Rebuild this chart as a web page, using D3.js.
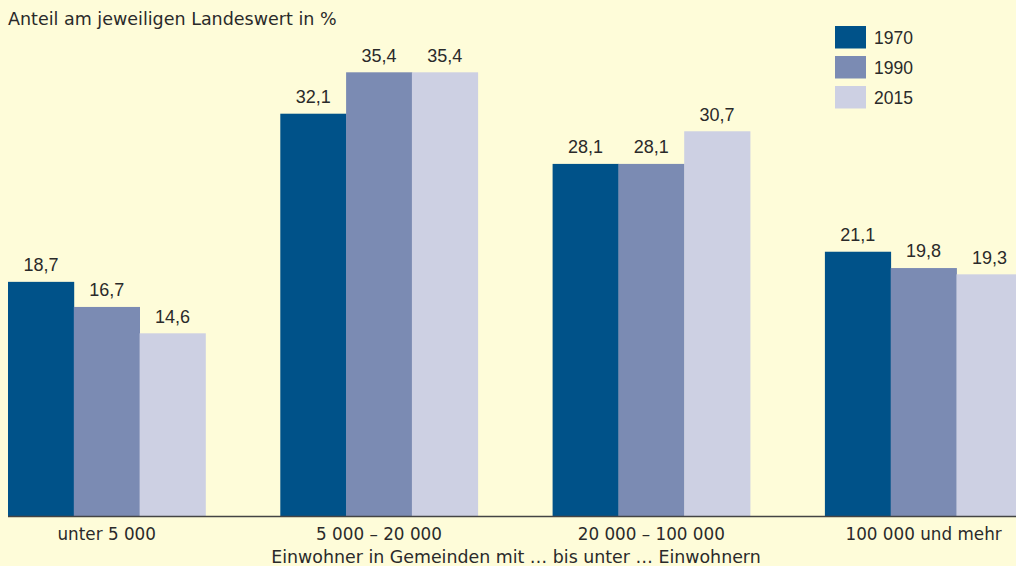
<!DOCTYPE html>
<html><head><meta charset="utf-8">
<script src="https://cdn.jsdelivr.net/npm/d3@7"></script>
<style>
html,body{margin:0;padding:0;background:#fefcd9;}
svg{display:block;}
</style></head>
<body><svg id="c" width="1016" height="566"></svg>
<script>
const categories = ["unter 5 000", "5 000 – 20 000", "20 000 – 100 000", "100 000 und mehr"];
const seriesNames = ["1970", "1990", "2015"];
const values1970 = [18.7, 32.1, 28.1, 21.1];
const values1990 = [16.7, 35.4, 28.1, 19.8];
const values2015 = [14.6, 35.4, 30.7, 19.3];
const colors = ["#005289", "#7b8bb3", "#cdd0e3"];
const yTitle = "Anteil am jeweiligen Landeswert in %";
const xTitle = "Einwohner in Gemeinden mit … bis unter … Einwohnern";

const series = [values1970, values1990, values2015];
const textFont = "'DejaVu Sans', Verdana, sans-serif";
const numFont = "'Liberation Sans', Arial, sans-serif";
const ink = "#2a2a2a";
const svg = d3.select("#c");
const W = 1016, H = 566;
svg.append("rect").attr("width", W).attr("height", H).attr("fill", "#fefcd9");

const baseY = 516.5, left = 8;
const step = 272.3, groupW = 197.4;
const x0 = d3.scaleBand().domain(categories).range([left, left + 3 * step + groupW])
  .paddingInner(1 - groupW / step).paddingOuter(0);
const x1 = d3.scaleBand().domain(seriesNames).range([0, x0.bandwidth()]).padding(0);
const y = d3.scaleLinear().domain([0, 35.4]).range([baseY, 72.3]);

const fmt = v => d3.format(".1f")(v).replace(".", ",");
const g = svg.append("g");
categories.forEach((c, i) => {
  seriesNames.forEach((s, j) => {
    const v = series[j][i];
    const bx = x0(c) + x1(s);
    g.append("rect").attr("x", bx).attr("y", y(v)).attr("width", x1.bandwidth() + 0.4)
      .attr("height", baseY - y(v)).attr("fill", colors[j]);
    g.append("text").attr("x", bx + x1.bandwidth() / 2).attr("y", y(v) - 10.6)
      .attr("text-anchor", "middle").attr("font-family", numFont).attr("font-size", 18)
      .attr("fill", ink).text(fmt(v));
  });
});

// axis
const ax = svg.append("g").attr("transform", `translate(0,${baseY})`)
  .call(d3.axisBottom(x0).tickSize(0).tickPadding(0));
ax.select(".domain").attr("d", `M${left},0H${W}`).attr("stroke", "#444").attr("stroke-width", 1.5);
ax.selectAll(".tick text").attr("font-size", 16.8).attr("fill", ink)
  .attr("font-family", textFont).attr("y", 23.5).attr("dy", null);

svg.append("text").attr("x", 516).attr("y", 562.5).attr("text-anchor", "middle")
  .attr("font-family", textFont).attr("font-size", 17.4).attr("fill", ink).text(xTitle);
svg.append("text").attr("x", 8).attr("y", 25).attr("font-family", textFont)
  .attr("font-size", 17.5).attr("fill", ink).text(yTitle);

// legend
const lg = svg.append("g");
seriesNames.forEach((s, j) => {
  lg.append("rect").attr("x", 835).attr("y", 26 + j * 30).attr("width", 31).attr("height", 22.5).attr("fill", colors[j]);
  lg.append("text").attr("x", 874).attr("y", 43.5 + j * 30).attr("font-family", numFont)
    .attr("font-size", 17.5).attr("fill", ink).text(s);
});
</script></body></html>
